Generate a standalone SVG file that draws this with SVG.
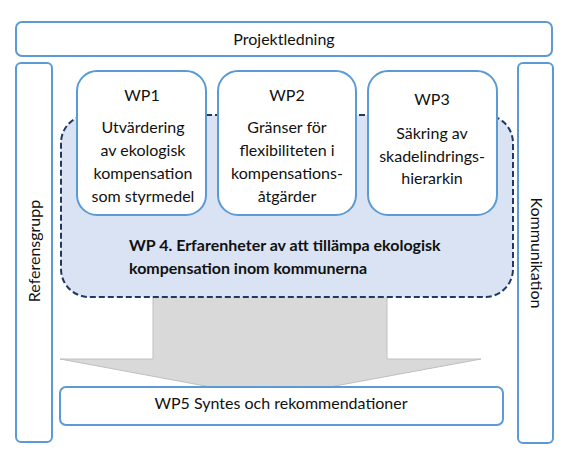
<svg xmlns="http://www.w3.org/2000/svg" width="570" height="463" viewBox="0 0 570 463">
<style>
.box{fill:#ffffff;stroke:#5b9bd5;stroke-width:2}
.t{font-family:Lato,"Open Sans",sans-serif;font-size:16px;fill:#111111;text-anchor:middle}
.b{font-family:Lato,"Open Sans",sans-serif;font-size:16px;font-weight:bold;fill:#111111}
</style>
<rect x="0" y="0" width="570" height="463" fill="#ffffff"/>
<g id="connectors">
<path d="M153,290 L387,290 L387,359 L481,359 L270,398 L60,359 L153,359 Z" fill="#d9d9d9" stroke="#bfbfbf" stroke-width="1"/>
</g>
<g id="wp4">
<rect x="61" y="115" width="452" height="182" rx="28" fill="#dae3f3" stroke="#203864" stroke-width="2" stroke-dasharray="6 3"/>
<text class="b" x="129" y="251">WP 4. Erfarenheter av att tillämpa ekologisk</text>
<text class="b" x="129" y="274">kompensation inom kommunerna</text>
</g>
<g id="wp1">
<rect class="box" x="77" y="71" width="129" height="144" rx="20"/>
<text class="t" x="142" y="101">WP1</text>
<text class="t" x="143" y="133">Utvärdering</text>
<text class="t" x="143" y="156">av ekologisk</text>
<text class="t" x="143" y="179">kompensation</text>
<text class="t" x="143" y="202">som styrmedel</text>
</g>
<g id="wp2">
<rect class="box" x="218" y="71" width="138" height="144" rx="20"/>
<text class="t" x="287" y="101">WP2</text>
<text class="t" x="287" y="133">Gränser för</text>
<text class="t" x="287" y="156">flexibiliteten i</text>
<text class="t" x="287" y="179">kompensations-</text>
<text class="t" x="287" y="202">åtgärder</text>
</g>
<g id="wp3">
<rect class="box" x="368" y="71" width="129" height="144" rx="20"/>
<text class="t" x="432" y="105">WP3</text>
<text class="t" x="432" y="139">Säkring av</text>
<text class="t" x="432" y="162">skadelindrings-</text>
<text class="t" x="432" y="184">hierarkin</text>
</g>
<g id="wp5">
<rect class="box" x="60" y="387" width="443" height="38" rx="6"/>
<text class="t" x="281" y="409">WP5 Syntes och rekommendationer</text>
</g>
<g id="projektledning">
<rect class="box" x="16" y="22" width="536" height="34" rx="6"/>
<text class="t" x="284" y="45">Projektledning</text>
</g>
<g id="referensgrupp">
<rect class="box" x="16" y="63" width="36" height="379" rx="5"/>
<text class="t" transform="translate(39.5,251) rotate(-90)">Referensgrupp</text>
</g>
<g id="kommunikation">
<rect class="box" x="518" y="63" width="35" height="380" rx="5"/>
<text class="t" transform="translate(530.5,253) rotate(90)">Kommunikation</text>
</g>
</svg>
